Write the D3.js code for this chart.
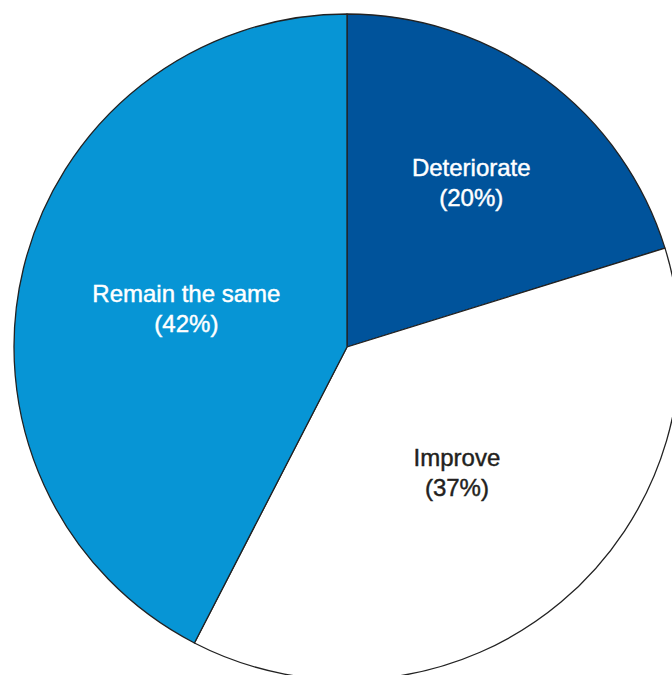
<!DOCTYPE html>
<html>
<head>
<meta charset="utf-8">
<script src="https://cdn.jsdelivr.net/npm/d3@7"></script>
<style>
    body { margin: 0; background: #fff; }
    svg { display: block; }
    text { font-family: "Liberation Sans", Arial, Helvetica, sans-serif; }
</style>
</head>
<body>
<svg id="chart" width="672" height="675"></svg>
<script>
// данные диаграммы
const categories = ["Deteriorate", "Improve", "Remain the same"];
const shares = [20, 37, 42];
const colors = ["#00539b", "#ffffff", "#0795d5"];
const textColors = ["#ffffff", "#231f20", "#ffffff"];

// положение подписи: радиус и поворот (в градусах) от середины сектора
const labelRadius = [202, 171, 164];
const labelShift = [1.6, 0, -2];

const svg = d3.select("svg#chart");

const attr_area = {
    cx: 347,
    cy: 347,
    radius: 333
};

const pie = d3.pie()
    .value(d => d)
    .sort(null);

const arcs = pie(shares);

const arc = d3.arc()
    .innerRadius(0)
    .outerRadius(attr_area.radius);

const g = svg.append("g")
    .attr("transform", `translate(${attr_area.cx}, ${attr_area.cy})`);

g.selectAll("path.slice")
    .data(arcs)
    .enter()
    .append("path")
    .attr("class", "slice")
    .attr("d", arc)
    .style("fill", (d, i) => colors[i])
    .style("stroke", "#222")
    .style("stroke-width", 1.3)
    .style("stroke-linejoin", "round");

// подписи секторов
const labels = g.selectAll("text.label")
    .data(arcs)
    .enter()
    .append("text")
    .attr("class", "label")
    .attr("transform", (d, i) => {
        const a = (d.startAngle + d.endAngle) / 2 + labelShift[i] * Math.PI / 180;
        const x = labelRadius[i] * Math.sin(a);
        const y = -labelRadius[i] * Math.cos(a);
        return `translate(${x}, ${y})`;
    })
    .style("text-anchor", "middle")
    .style("font-size", "24px")
    .style("fill", (d, i) => textColors[i])
    .style("stroke", (d, i) => textColors[i])
    .style("stroke-width", 0.45);

labels.append("tspan")
    .attr("x", 0)
    .attr("dy", "-0.5em")
    .text((d, i) => categories[i]);

labels.append("tspan")
    .attr("x", 0)
    .attr("dy", "1.25em")
    .text(d => `(${d.data}%)`);
</script>
</body>
</html>
